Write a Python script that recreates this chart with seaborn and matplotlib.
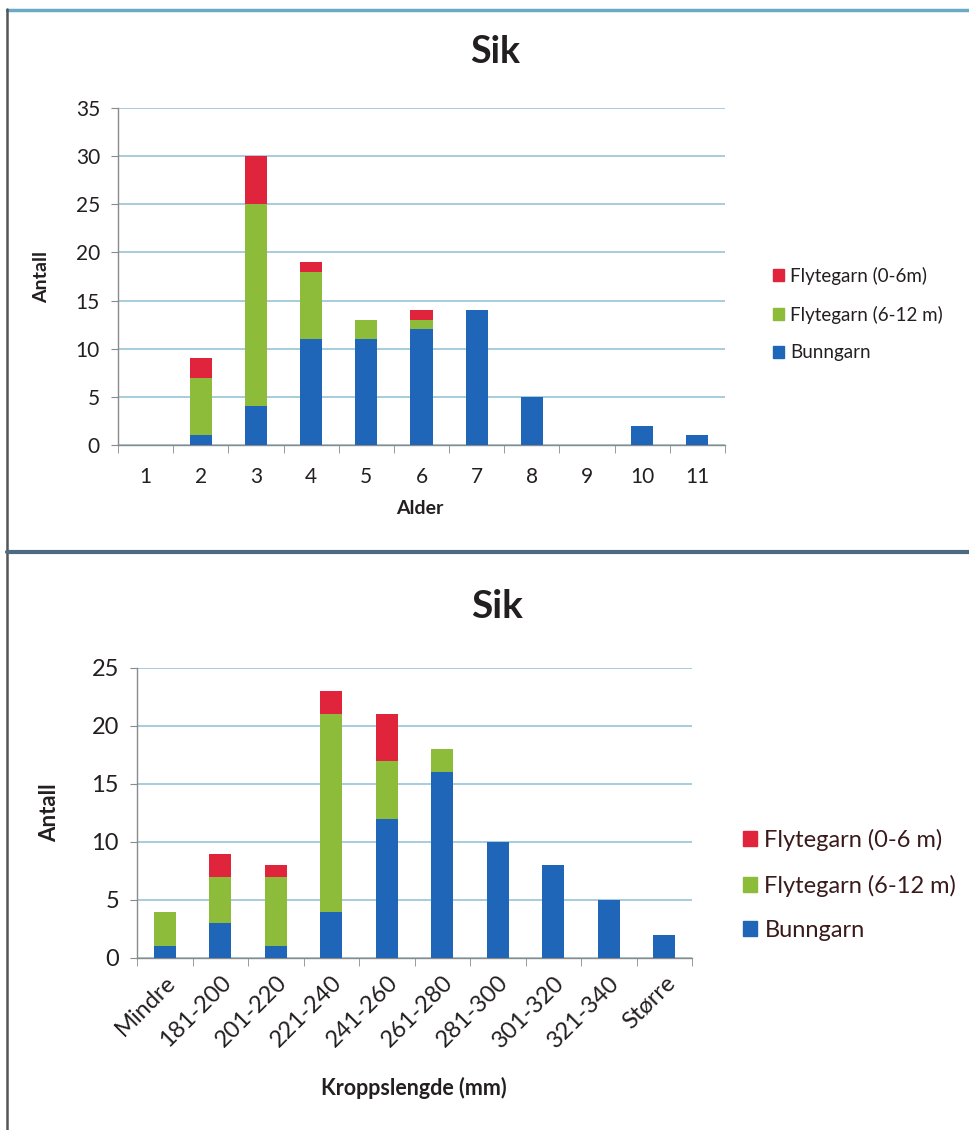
import numpy as np
import pandas as pd
import seaborn as sns
import matplotlib.pyplot as plt
from matplotlib.patches import Patch
from matplotlib.lines import Line2D
from matplotlib.ticker import MultipleLocator, FixedLocator

# Data: alder
alder = ["1", "2", "3", "4", "5", "6", "7", "8", "9", "10", "11"]
alder_bunngarn = [0, 1, 4, 11, 11, 12, 14, 5, 0, 2, 1]
alder_flyt_6_12 = [0, 6, 21, 7, 2, 1, 0, 0, 0, 0, 0]
alder_flyt_0_6 = [0, 2, 5, 1, 0, 1, 0, 0, 0, 0, 0]

# Data: kroppslengde
lengde = ["Mindre", "181-200", "201-220", "221-240", "241-260", "261-280",
          "281-300", "301-320", "321-340", "Større"]
lengde_bunngarn = [1, 3, 1, 4, 12, 16, 10, 8, 5, 2]
lengde_flyt_6_12 = [3, 4, 6, 17, 5, 2, 0, 0, 0, 0]
lengde_flyt_0_6 = [0, 2, 1, 2, 4, 0, 0, 0, 0, 0]

RED = "#e0243c"
GREEN = "#8dbb3a"
BLUE = "#1f66b8"
GRID = "#9fc9da"
TXT = "#231f20"

sns.set_style("white")
plt.rcParams["font.family"] = ["Lato", "DejaVu Sans"]

W, H = 969, 1130
fig = plt.figure(figsize=(W / 100, H / 100), dpi=100)


def stacked(ax, cats, bunn, mid, top, ymax, ystep, tick_fs):
    df = pd.DataFrame({"kat": cats, "bunn": bunn, "mid": mid, "top": top})
    df["s2"] = df["bunn"] + df["mid"]
    df["s3"] = df["s2"] + df["top"]
    # draw cumulative totals back to front -> stacked look
    sns.barplot(data=df, x="kat", y="s3", color=RED, width=0.4, saturation=1,
                ax=ax, zorder=3, edgecolor="none")
    sns.barplot(data=df, x="kat", y="s2", color=GREEN, width=0.4, saturation=1,
                ax=ax, zorder=4, edgecolor="none")
    sns.barplot(data=df, x="kat", y="bunn", color=BLUE, width=0.4, saturation=1,
                ax=ax, zorder=5, edgecolor="none")
    n = len(cats)
    ax.set_xlim(-0.5, n - 0.5)
    ax.set_ylim(0, ymax)
    ax.yaxis.set_major_locator(MultipleLocator(ystep))
    ax.xaxis.set_minor_locator(FixedLocator(np.arange(n + 1) - 0.5))
    ax.grid(axis="y", color=GRID, lw=1.3, zorder=0)
    ax.grid(axis="x", visible=False)
    for s in ["top", "right"]:
        ax.spines[s].set_visible(False)
    for s in ["left", "bottom"]:
        ax.spines[s].set_color("#8a8a8a")
        ax.spines[s].set_linewidth(1.0)
    ax.tick_params(axis="y", which="major", length=5, color="#8a8a8a",
                   labelsize=tick_fs, labelcolor=TXT, pad=8, left=True)
    ax.tick_params(axis="x", which="major", length=0, labelsize=tick_fs,
                   labelcolor=TXT)
    ax.tick_params(axis="x", which="minor", length=6, color="#8a8a8a",
                   direction="out", bottom=True)
    return ax


# ---- panel 1: Alder ----
ax1 = fig.add_axes([118 / W, 1 - 445 / H, 607 / W, 337 / H])
stacked(ax1, alder, alder_bunngarn, alder_flyt_6_12, alder_flyt_0_6, 35, 5, 15)
ax1.tick_params(axis="x", which="major", pad=16)
ax1.set_xlabel("Alder", fontsize=14, fontweight="bold", color=TXT)
ax1.xaxis.set_label_coords(0.497, -0.163)
ax1.set_ylabel("Antall", fontsize=14, fontweight="bold", color=TXT)
ax1.yaxis.set_label_coords(-0.112, 0.5)
fig.text(495 / W, 1 - 52 / H, "Sik", ha="center", va="center",
         fontsize=27, fontweight="bold", color=TXT)

h1 = [Patch(color=RED, label="Flytegarn (0-6m)"),
      Patch(color=GREEN, label="Flytegarn (6-12 m)"),
      Patch(color=BLUE, label="Bunngarn")]
fig.legend(handles=h1, loc="center left", bbox_to_anchor=(756 / W, 1 - 314 / H),
           frameon=False, fontsize=13.5, handlelength=0.6, handleheight=0.6,
           handletextpad=0.3, labelspacing=1.1, labelcolor=TXT)

# ---- panel 2: Kroppslengde ----
ax2 = fig.add_axes([137 / W, 1 - 958 / H, 555 / W, 290 / H])
stacked(ax2, lengde, lengde_bunngarn, lengde_flyt_6_12, lengde_flyt_0_6, 25, 5, 17)
ax2.tick_params(axis="x", which="major", pad=10)
plt.setp(ax2.get_xticklabels(), rotation=45, ha="right", va="top",
         rotation_mode="anchor")
ax2.set_xlabel("Kroppslengde (mm)", fontsize=15.5, fontweight="bold", color=TXT)
ax2.xaxis.set_label_coords(0.499, -0.41)
ax2.set_ylabel("Antall", fontsize=16, fontweight="bold", color=TXT)
ax2.yaxis.set_label_coords(-0.139, 0.5)
fig.text(497 / W, 1 - 606 / H, "Sik", ha="center", va="center",
         fontsize=28, fontweight="bold", color=TXT)

h2 = [Patch(color=RED, label="Flytegarn (0-6 m)"),
      Patch(color=GREEN, label="Flytegarn (6-12 m)"),
      Patch(color=BLUE, label="Bunngarn")]
fig.legend(handles=h2, loc="center left", bbox_to_anchor=(722 / W, 1 - 885 / H),
           frameon=False, fontsize=17, handlelength=0.6, handleheight=0.6,
           handletextpad=0.3, labelspacing=1.0, labelcolor="#3a1a1a")

# page frame lines from the scan
fig.add_artist(Line2D([7 / W, 1], [1 - 10 / H, 1 - 10 / H], color="#6aaac4", lw=2.5))
fig.add_artist(Line2D([7 / W, 7 / W], [0, 1 - 9 / H], color="#555555", lw=1.8))
fig.add_artist(Line2D([7 / W, 1], [1 - 552 / H, 1 - 552 / H], color="#4d6b80", lw=3))

fig.savefig("out.png", dpi=100)
